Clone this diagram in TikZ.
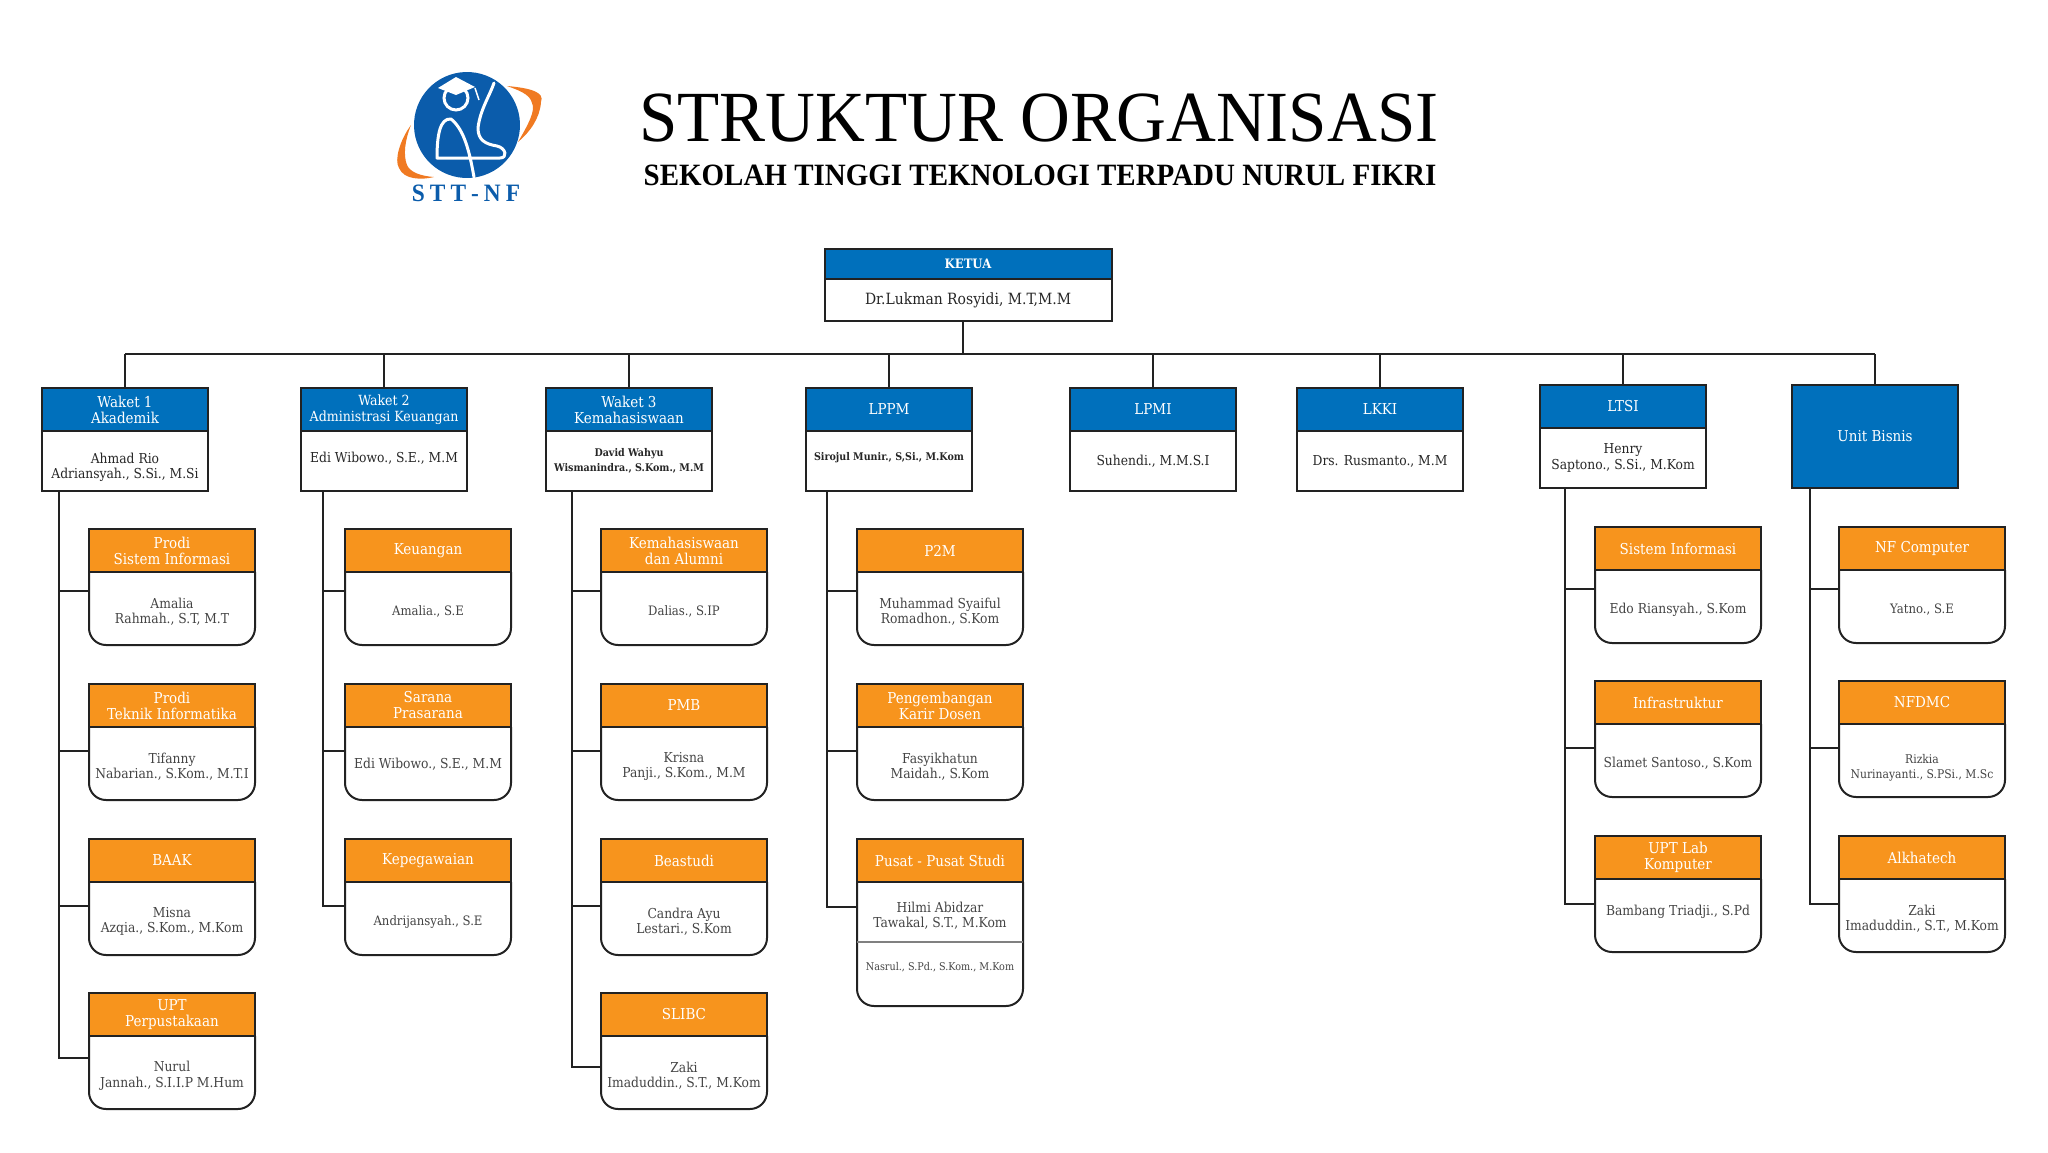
\documentclass[tikz,border=0pt]{standalone}
\usepackage{fontspec}
\setmainfont{DejaVu Serif Condensed}
\newfontfamily\titlefont[FakeStretch=0.958]{Liberation Serif}
\newfontfamily\subfont[FakeStretch=0.935]{Liberation Serif}
\usetikzlibrary{positioning}
\definecolor{sttblue}{HTML}{0070BC}
\definecolor{sttorange}{HTML}{F7941D}
\definecolor{swoosh}{HTML}{F07A22}
\definecolor{logoblue}{HTML}{0B5CAB}
\definecolor{boxline}{HTML}{222222}
\definecolor{kidtext}{HTML}{444444}
\newcommand{\namefont}{\fontsize{13.7}{15.5}\selectfont}
\newcommand{\plainname}{\fontsize{13}{15.5}\selectfont}
\newcommand{\smallname}{\fontsize{12}{14}\selectfont}
\newcommand{\tinyname}{\fontsize{10.7}{12}\selectfont}
\newcommand{\boldname}{\fontsize{10.6}{14}\selectfont\bfseries}
\tikzset{
  wire/.style={draw=boxline,line width=2pt},
  anyhead/.style={draw=boxline,line width=2pt,outer sep=0pt,inner sep=0pt,text=white,align=center,
    minimum width=166,font=\fontsize{15}{16}\selectfont},
  bluehead/.style={anyhead,fill=sttblue,minimum height=43},
  orangehead/.style={anyhead,fill=sttorange,minimum height=43,text=white},
  bossbody/.style={draw=boxline,line width=2pt,outer sep=0pt,inner sep=0pt,align=center,text=black!85,
    minimum width=166,minimum height=60,font=\namefont},
  kidbody/.style={outer sep=0pt,inner sep=0pt,align=center,text=kidtext,
    minimum width=166,minimum height=73,font=\namefont},
}
% kepala biru + isi putih
\newcommand{\topbox}[5]{%
  \node[bluehead,anchor=north] (#1h) at (#2,#3) {#4};
  \node[bossbody,below=0pt of #1h] (#1b) {#5};
}
% kepala oranye + isi dengan sudut bawah bulat
\newcommand{\kidbox}[5]{%
  \node[orangehead,anchor=north west] (#1h) at (#2,#3) {#4};
  \node[kidbody,below=3pt of #1h] (#1b) {#5};
  \draw[wire,rounded corners=17pt] (#1h.south west) -- ++(0,73) -- ++(166,0) -- (#1h.south east);
}
\begin{document}
\begin{tikzpicture}[x=1pt,y=-1pt]
  \useasboundingbox (0,0) rectangle (2048,1152);
  % logo
  \fill[swoosh] (507,86) .. controls (530,88) and (545,92) .. (541,102) .. controls (540,118) and (530,132) .. (518,142)
    .. controls (528,125) and (536,110) .. (532,103) .. controls (530,94) and (518,90) .. (507,86) -- cycle;
  \fill[swoosh] (411,125) .. controls (400,140) and (394,160) .. (399,168) .. controls (404,180) and (422,180) .. (434,177)
    .. controls (420,176) and (410,172) .. (407,165) .. controls (403,155) and (405,140) .. (411,125) -- cycle;
  \fill[logoblue,rotate around={-4:(467,125)}] (467,125) ellipse (53 and 53);
  \draw[white,line width=3pt] (456,98) ellipse (12 and 12);
  \fill[white] (438,88) -- (456,77) -- (475,87) -- (456,95) -- cycle;
  \draw[white,line width=1.5pt] (475,88) -- (479,100);
  \draw[white,line width=3pt,line cap=round,line join=round] (474,177) .. controls (470,155) and (465,130) .. (451,119)
    .. controls (440,118) and (437,135) .. (437,158) -- (500,158) .. controls (508,158) and (506,148) .. (497,146)
    .. controls (485,144) and (478,140) .. (478,128) .. controls (480,110) and (490,95) .. (494,83);
  \node[text=logoblue,font=\subfont\bfseries\fontsize{25}{25}\selectfont] (logotext) at (466,193) {S\kern5pt T\kern5pt T\kern5pt -\kern5pt N\kern5pt F};
  % judul
  \node[font=\titlefont\fontsize{72}{72}\selectfont] (title) at (1039,118) {STRUKTUR ORGANISASI};
  \node[font=\subfont\bfseries\fontsize{31}{31}\selectfont] (subtitle) at (1040,175) {SEKOLAH TINGGI TEKNOLOGI TERPADU NURUL FIKRI};
  % pimpinan
  \node[bluehead,anchor=north,minimum width=287,minimum height=30,font=\bfseries\fontsize{13}{15}\selectfont] (ketuah) at (968,249) {\raisebox{-2pt}{KETUA}};
  \node[bossbody,below=0pt of ketuah,minimum width=287,minimum height=42,font=\fontsize{15.5}{18}\selectfont] (ketuab) {Dr.Lukman Rosyidi, M.T,M.M};
  \topbox{waa}{125}{388}{Waket 1\\Akademik}{\rule{0pt}{23pt}Ahmad Rio\\Adriansyah., S.Si., M.Si}
  \topbox{wab}{384}{388}{\fontsize{14}{16}\selectfont Waket 2\\\fontsize{14}{16}\selectfont Administrasi Keuangan}{\rule[-7pt]{0pt}{0pt}Edi Wibowo., S.E., M.M}
  \topbox{wac}{629}{388}{Waket 3\\Kemahasiswaan}{\boldname David Wahyu\\\boldname Wismanindra., S.Kom., M.M}
  \topbox{lppm}{889}{388}{\raisebox{-2pt}{LPPM}}{\rule[-9pt]{0pt}{0pt}\boldname Sirojul Munir., S,Si., M.Kom}
  \topbox{lpmi}{1153}{388}{\raisebox{-2pt}{LPMI}}{Suhendi., M.M.S.I}
  \topbox{lkki}{1380}{388}{\raisebox{-2pt}{LKKI}}{Drs. Rusmanto., M.M}
  \topbox{ltsi}{1623}{385}{LTSI}{Henry\\Saptono., S.Si., M.Kom}
  \node[bluehead,anchor=north,minimum height=103] (unith) at (1875,385) {Unit Bisnis};
  % bagian
  \kidbox{psi}{89}{529}{Prodi\\Sistem Informasi}{Amalia\\Rahmah., S.T, M.T}
  \kidbox{pti}{89}{684}{Prodi\\Teknik Informatika}{Tifanny\\Nabarian., S.Kom., M.T.I}
  \kidbox{baak}{89}{839}{BAAK}{Misna\\Azqia., S.Kom., M.Kom}
  \kidbox{upt}{89}{993}{UPT\\Perpustakaan}{Nurul\\Jannah., S.I.I.P M.Hum}
  \kidbox{keu}{345}{529}{Keuangan}{\plainname Amalia., S.E}
  \kidbox{sarpras}{345}{684}{Sarana\\Prasarana}{\rule[-6pt]{0pt}{0pt}Edi Wibowo., S.E., M.M}
  \kidbox{pegawai}{345}{839}{Kepegawaian}{\plainname Andrijansyah., S.E}
  \kidbox{kema}{601}{529}{Kemahasiswaan\\dan Alumni}{\plainname Dalias., S.IP}
  \kidbox{pmb}{601}{684}{PMB}{Krisna\\Panji., S.Kom., M.M}
  \kidbox{beasiswa}{601}{839}{Beastudi}{Candra Ayu\\Lestari., S.Kom}
  \kidbox{slibc}{601}{993}{SLIBC}{Zaki\\Imaduddin., S.T., M.Kom}
  \kidbox{ppm}{857}{529}{\raisebox{-2pt}{P2M}}{Muhammad Syaiful\\Romadhon., S.Kom}
  \kidbox{karir}{857}{684}{Pengembangan\\Karir Dosen}{Fasyikhatun\\Maidah., S.Kom}
  \node[orangehead,anchor=north west] (pusath) at (857,839) {Pusat - Pusat Studi};
  \node[kidbody,below=0pt of pusath,minimum height=60] (pusatb) {\rule{0pt}{18pt}Hilmi Abidzar\\Tawakal, S.T., M.Kom};
  \node[kidbody,below=0pt of pusatb,minimum height=64,font=\tinyname] (pusatc) {\rule[-16pt]{0pt}{0pt}Nasrul., S.Pd., S.Kom., M.Kom};
  \draw[wire,rounded corners=17pt] (pusatb.north west) -- (pusatc.south west) -- (pusatc.south east) -- (pusatb.north east);
  \draw[draw=gray,line width=1.2pt] (pusatb.south west) -- (pusatb.south east);
  \kidbox{sisinfo}{1595}{527}{Sistem Informasi}{Edo Riansyah., S.Kom}
  \kidbox{infra}{1595}{681}{Infrastruktur}{Slamet Santoso., S.Kom}
  \kidbox{lab}{1595}{836}{UPT Lab\\Komputer}{\rule[-17pt]{0pt}{0pt}Bambang Triadji., S.Pd}
  \kidbox{nfc}{1839}{527}{NF Computer}{\plainname Yatno., S.E}
  \kidbox{nfdmc}{1839}{681}{NFDMC}{\rule{0pt}{18pt}\smallname Rizkia\\\smallname Nurinayanti., S.PSi., M.Sc}
  \kidbox{alkha}{1839}{836}{Alkhatech}{Zaki\\Imaduddin., S.T., M.Kom}
  % garis
  \coordinate (busl) at (125,354);
  \coordinate (busr) at (1875,354);
  \draw[wire] (busl) -- (busr);
  \draw[wire] ([xshift=-5]ketuab.south) -- ([xshift=-5]ketuab.south |- busl);
  \foreach \head in {waah,wabh,wach,lppmh,lpmih,lkkih,ltsih,unith}
    \draw[wire] (\head.north) -- (\head.north |- busl);
  \foreach \up/\off/\kid/\dy in {waab/17/psib/21,waab/17/ptib/15.5,waab/17/baakb/15.5,waab/17/uptb/17.5,
      wabb/22/keub/21,wabb/22/sarprasb/15.5,wabb/22/pegawaib/15.5,
      wacb/26/kemab/21,wacb/26/pmbb/15.5,wacb/26/beasiswab/15.5,wacb/26/slibcb/8.5,
      lppmb/21/ppmb/21,lppmb/21/karirb/15.5,
      ltsib/25/sisinfob/21,ltsib/25/infrab/15.5,ltsib/25/labb/14.5,
      unith/18/nfcb/21,unith/18/nfdmcb/15.5,unith/18/alkhab/14.5}
    \draw[wire] ([xshift=\off]\up.south west) |- ([yshift=\dy]\kid.west);
  \draw[wire] ([xshift=21]lppmb.south west) |- ([yshift=5]pusatb.west);
\end{tikzpicture}
\end{document}
